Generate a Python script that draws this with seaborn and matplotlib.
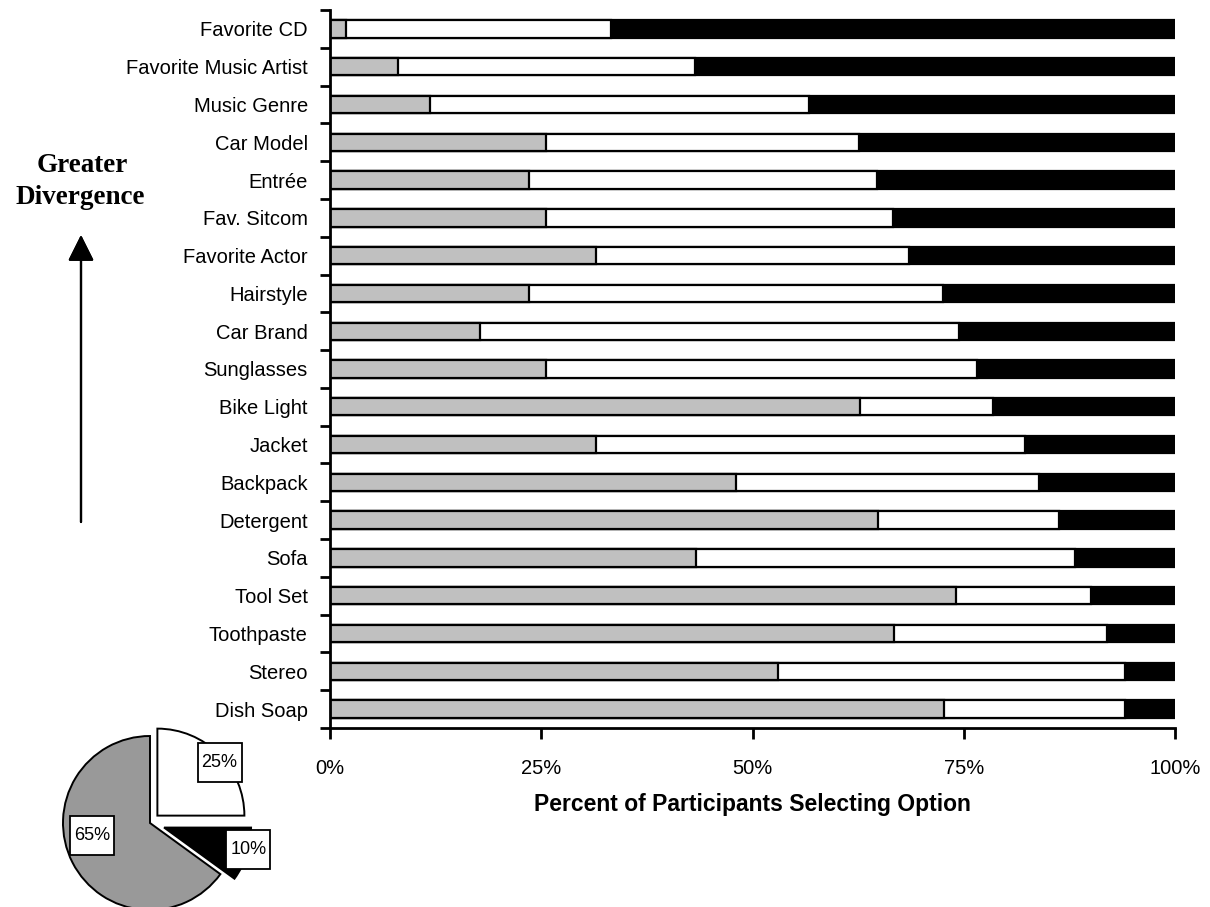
import matplotlib
matplotlib.use("Agg")
import matplotlib.pyplot as plt
from matplotlib.patches import Rectangle
import seaborn as sns
import pandas as pd
import numpy as np
from matplotlib.ticker import PercentFormatter, FixedLocator

# Product / preference categories, most divergent at the top
categories = [
    "Favorite CD", "Favorite Music Artist", "Music Genre", "Car Model",
    "Entrée", "Fav. Sitcom", "Favorite Actor", "Hairstyle", "Car Brand",
    "Sunglasses", "Bike Light", "Jacket", "Backpack", "Detergent", "Sofa",
    "Tool Set", "Toothpaste", "Stereo", "Dish Soap",
]

# Share of participants choosing the first option (grey segment), %
share_first = [1.9, 8.0, 11.8, 25.6, 23.5, 25.6, 31.5, 23.5, 17.8, 25.6,
               62.7, 31.5, 48.0, 64.8, 43.3, 74.1, 66.7, 53.0, 72.7]
# Share choosing the second option (white segment), %
share_second = [31.3, 35.2, 44.9, 37.0, 41.2, 41.0, 37.0, 49.0, 56.6, 51.0,
                15.8, 50.7, 35.9, 21.5, 44.9, 16.0, 25.3, 41.1, 21.4]
# The remaining share is the third option (black segment)

# Example pie of option shares
pie_values = [65, 10, 25]
pie_labels = ["65%", "10%", "25%"]

GREY = "#C0C0C0"
PIE_GREY = "#999999"

df = pd.DataFrame({
    "category": categories,
    "first": share_first,
    "second": share_second,
})
df["first_second"] = df["first"] + df["second"]
df["total"] = 100.0

sns.set_style("white")
plt.rcParams["font.family"] = ["Liberation Sans", "DejaVu Sans"]
for key in ["text.color", "axes.labelcolor", "xtick.color", "ytick.color"]:
    plt.rcParams[key] = "black"

W, H = 1210, 907
fig = plt.figure(figsize=(W / 100, H / 100), dpi=100)
ax = fig.add_axes([330 / W, (H - 728) / H, 845 / W, 718 / H])

bar_kw = dict(y="category", orient="h", edgecolor="black", linewidth=1.6,
              width=0.46, ax=ax, order=categories, saturation=1)
sns.barplot(data=df, x="total", color="black", **bar_kw)
sns.barplot(data=df, x="first_second", color="white", **bar_kw)
sns.barplot(data=df, x="first", color=GREY, **bar_kw)

ax.set_xlim(0, 100)
ax.set_ylim(len(categories) - 0.5, -0.5)
ax.xaxis.set_major_locator(FixedLocator([0, 25, 50, 75, 100]))
ax.xaxis.set_major_formatter(PercentFormatter(decimals=0))
ax.set_ylabel("")
ax.set_xlabel("Percent of Participants Selecting Option", fontsize=16.5,
              fontweight="bold", labelpad=11)

# Category ticks sit between bars; labels sit on the bars
ax.yaxis.set_minor_locator(FixedLocator(np.arange(len(categories) + 1) - 0.5))
ax.tick_params(axis="y", which="major", length=0, pad=16, labelsize=14.5)
ax.tick_params(axis="y", which="minor", length=7, width=2, color="black",
               direction="out", left=True)
ax.tick_params(axis="x", which="major", length=8, width=2, color="black",
               direction="out", bottom=True, pad=14, labelsize=14.5)

for side in ["top", "right"]:
    ax.spines[side].set_visible(False)
for side in ["left", "bottom"]:
    ax.spines[side].set_color("black")
    ax.spines[side].set_linewidth(2)

# Annotation: arrow and caption on the left
fig.text(82 / W, 1 - 166 / H, "Greater", ha="center", va="center",
         fontsize=19.5, fontweight="bold", family="Liberation Serif")
fig.text(80 / W, 1 - 198 / H, "Divergence", ha="center", va="center",
         fontsize=19.5, fontweight="bold", family="Liberation Serif")
fig.add_artist(plt.annotate(
    "", xy=(81, H - 235), xytext=(81, H - 522),
    xycoords="figure pixels", textcoords="figure pixels",
    arrowprops=dict(arrowstyle="-|>,head_length=0.8,head_width=0.4",
                    lw=1.6, color="black", mutation_scale=20,
                    shrinkA=0, shrinkB=0)))

# Exploded pie in the lower left corner
R = 87.0
pax = fig.add_axes([0, 0, 300 / W, 200 / H])
cx, cy = 150.0, H - 823.0
wedges, _ = pax.pie(pie_values, colors=[PIE_GREY, "black", "white"],
                    startangle=90, counterclock=True,
                    explode=[0, 0.17, 0.12], radius=1.0,
                    wedgeprops=dict(edgecolor="black", linewidth=1.4))
pax.set_xlim(-cx / R, (300 - cx) / R)
pax.set_ylim(-cy / R, (200 - cy) / R)
pax.set_aspect("auto")
pax.axis("off")

# Boxed percentage labels
label_pos = [(-0.67, -0.14), (1.13, -0.31), (0.80, 0.69)]
box_w, box_h = 44 / R, 39 / R
for txt, (lx, ly) in zip(pie_labels, label_pos):
    pax.add_patch(Rectangle((lx - box_w / 2, ly - box_h / 2), box_w, box_h,
                            facecolor="white", edgecolor="black", lw=1.3,
                            zorder=5))
    pax.text(lx, ly, txt, ha="center", va="center", fontsize=13, zorder=6)

fig.savefig("out.png", dpi=100)
